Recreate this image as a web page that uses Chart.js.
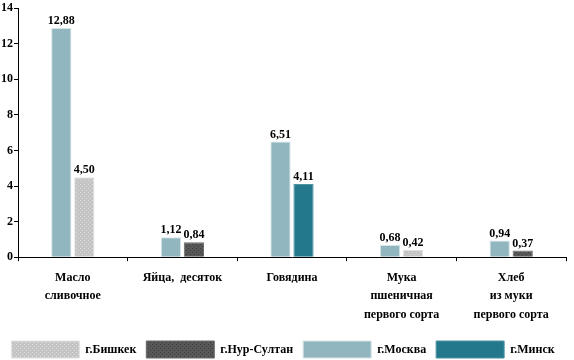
<!DOCTYPE html>
<html>
<head>
  <title>Цены на продукты</title>
  <script src="https://cdn.jsdelivr.net/npm/chart.js"></script>
  <style>
    body { margin: 0; background: #fff; }
    .chart { width: 574px; height: 360px; }
  </style>
</head>
<body>
  <div class="chart"><canvas id="myChart"></canvas></div>
  <script>
    const categories = [
      ['Масло', 'сливочное'],
      ['Яйца,  десяток'],
      ['Говядина'],
      ['Мука', 'пшеничная', 'первого сорта'],
      ['Хлеб', 'из муки', 'первого сорта']
    ];
    const moscow   = [12.88, 1.12, 6.51, 0.68, 0.94];
    const bishkek  = [4.50, null, null, 0.42, null];
    const nursultan = [null, 0.84, null, null, 0.37];
    const minsk    = [null, null, 4.11, null, null];
    const yTicks = [0, 2, 4, 6, 8, 10, 12, 14];

    const serif = "'Liberation Serif', 'DejaVu Serif', serif";

    // dotted fill like the original
    function dots(base, dot) {
      const c = document.createElement('canvas');
      c.width = 4; c.height = 4;
      const g = c.getContext('2d');
      g.fillStyle = base; g.fillRect(0, 0, 4, 4);
      g.fillStyle = dot;
      g.fillRect(0, 0, 1, 1);
      g.fillRect(2, 2, 1, 1);
      return g.createPattern(c, 'repeat');
    }
    const ctx = document.getElementById('myChart').getContext('2d');
    const grayPat = dots('#c4c4c4', '#dcdcdc');
    const darkPat = dots('#585858', '#3a3a3a');

    const valueLabels = {
      id: 'valueLabels',
      afterDatasetsDraw(chart) {
        const c = chart.ctx;
        c.save();
        c.font = 'bold 12px ' + serif;
        c.fillStyle = '#000';
        c.textAlign = 'center';
        c.textBaseline = 'bottom';
        chart.data.datasets.forEach((ds, i) => {
          chart.getDatasetMeta(i).data.forEach((bar, j) => {
            const v = ds.data[j];
            if (v == null) return;
            c.fillText(v.toFixed(2).replace('.', ','), bar.x, bar.y - 1);
          });
        });
        c.restore();
      }
    };

    // legend sits lower, closer to the bottom edge
    const tightLegend = {
      id: 'tightLegend',
      afterInit(chart) {
        const lg = chart.legend;
        if (!lg) return;
        const fit = lg.fit;
        lg.fit = function () { fit.call(this); this.height -= 8; };
      }
    };

    const legendOrder = [1, 2, 0, 3];

    new Chart(ctx, {
      type: 'bar',
      data: {
        labels: categories,
        datasets: [
          { label: 'г.Москва', data: moscow, backgroundColor: '#92b6bf', borderColor: '#d6e4e8' },
          { label: 'г.Бишкек', data: bishkek, backgroundColor: grayPat, borderColor: '#e2e2e2' },
          { label: 'г.Нур-Султан', data: nursultan, backgroundColor: darkPat, borderColor: '#6a6a6a' },
          { label: 'г.Минск', data: minsk, backgroundColor: '#23788c', borderColor: '#4f93a3' }
        ].map(d => Object.assign(d, {
          skipNull: true,
          borderWidth: 1,
          categoryPercentage: 0.42,
          barPercentage: 0.88
        }))
      },
      options: {
        responsive: true,
        maintainAspectRatio: false,
        animation: false,
        layout: { padding: { top: 6, right: 8, left: 0, bottom: 0 } },
        plugins: {
          tooltip: { enabled: false },
          legend: {
            position: 'bottom',
            labels: {
              boxWidth: 68,
              boxHeight: 17,
              padding: 10,
              color: '#000',
              font: { family: serif, size: 12, weight: 'bold' },
              sort: (a, b) => legendOrder.indexOf(a.datasetIndex) - legendOrder.indexOf(b.datasetIndex)
            }
          }
        },
        scales: {
          x: {
            grid: { display: true, drawOnChartArea: false, offset: true, tickLength: 4, color: '#000' },
            border: { color: '#000', width: 1 },
            ticks: {
              color: '#000',
              maxRotation: 0,
              autoSkip: false,
              padding: 7,
              font: { family: serif, size: 12, weight: 'bold', lineHeight: 1.55 }
            }
          },
          y: {
            min: 0,
            max: 14,
            afterBuildTicks: axis => { axis.ticks = yTicks.map(v => ({ value: v })); },
            grid: { display: true, drawOnChartArea: false, tickLength: 4, color: '#000' },
            border: { color: '#000', width: 1 },
            ticks: {
              color: '#000',
              padding: 1,
              font: { family: serif, size: 12, weight: 'bold' }
            }
          }
        }
      },
      plugins: [valueLabels, tightLegend]
    });
  </script>
</body>
</html>
